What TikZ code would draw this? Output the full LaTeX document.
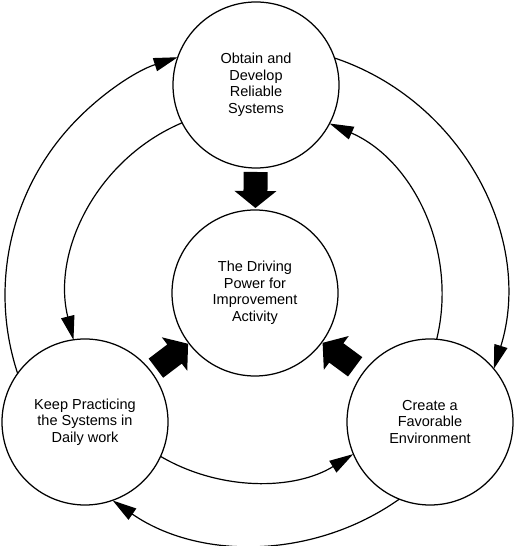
\documentclass[tikz,border=0pt]{standalone}
\usepackage{fontspec}
\setmainfont{Liberation Sans}
\usetikzlibrary{calc,arrows.meta}
\newcommand{\blockarrow}[2]{%
  \coordinate (ba-h) at ($(#2)!17pt!(#1)$);
  \fill ($(#1)!12pt!90:(#2)$) -- ($(ba-h)!12pt!90:(#2)$) -- ($(ba-h)!21pt!90:(#2)$) -- (#2)
     -- ($(ba-h)!21pt!-90:(#2)$) -- ($(ba-h)!12pt!-90:(#2)$) -- ($(#1)!12pt!-90:(#2)$) -- cycle;}
\begin{document}
\begin{tikzpicture}[x=1pt,y=1pt,
  stage/.style={circle, draw, line width=1.25pt, minimum size=166pt, inner sep=0pt,
    align=center, font=\fontsize{14.5}{16.5}\selectfont},
  conn/.style={line width=1.2pt, -{Triangle[length=24pt,width=13.5pt]}}]
\useasboundingbox (0,0) rectangle (516,546);
\coordinate (O) at (255,251);
\node[stage] (T) at (256,461) {Obtain and\\Develop\\Reliable\\Systems};
\node[stage] (C) at (255,253) {The Driving\\Power for\\Improvement\\Activity};
\node[stage] (L) at (85,124) {Keep Practicing\\the Systems in\\Daily work};
\node[stage] (R) at (430,124) {Create a\\Favorable\\Environment};
% outer cycle (clockwise)
\coordinate (oL) at ($(O)+(198.3:250)$);
\coordinate (oT) at ($(O)+(71.4:250)$);
\coordinate (oR) at ($(O)+(305.2:250)$);
\draw[conn] (oL) arc[start angle=198.3, end angle=108.0, radius=250];
\draw[conn] (oT) arc[start angle=71.4, end angle=-17.2, radius=250];
\draw[conn] (oR) arc[start angle=305.2, end angle=235.3, radius=250];
% inner cycle (counter-clockwise)
\coordinate (iT) at ($(O)+(112.9:187)$);
\coordinate (iL) at ($(O)+(239.7:187)$);
\coordinate (iR) at ($(O)+(346.3:187)$);
\draw[conn] (iT) arc[start angle=112.9, end angle=193.9, radius=187];
\draw[conn] (iL) arc[start angle=239.7, end angle=301.7, radius=187];
\draw[conn] (iR) arc[start angle=346.3, end angle=426.5, radius=187];
% block arrows into the centre
\coordinate (tT) at ($(T)!87pt!(C)$);
\coordinate (hT) at ($(C)!85pt!(T)$);
\coordinate (tL) at ($(L)!89pt!(C)$);
\coordinate (hL) at ($(C)!84pt!(L)$);
\coordinate (tR) at ($(R)!93pt!(C)$);
\coordinate (hR) at ($(C)!84pt!(R)$);
\blockarrow{tT}{hT}
\blockarrow{tL}{hL}
\blockarrow{tR}{hR}
\end{tikzpicture}
\end{document}
